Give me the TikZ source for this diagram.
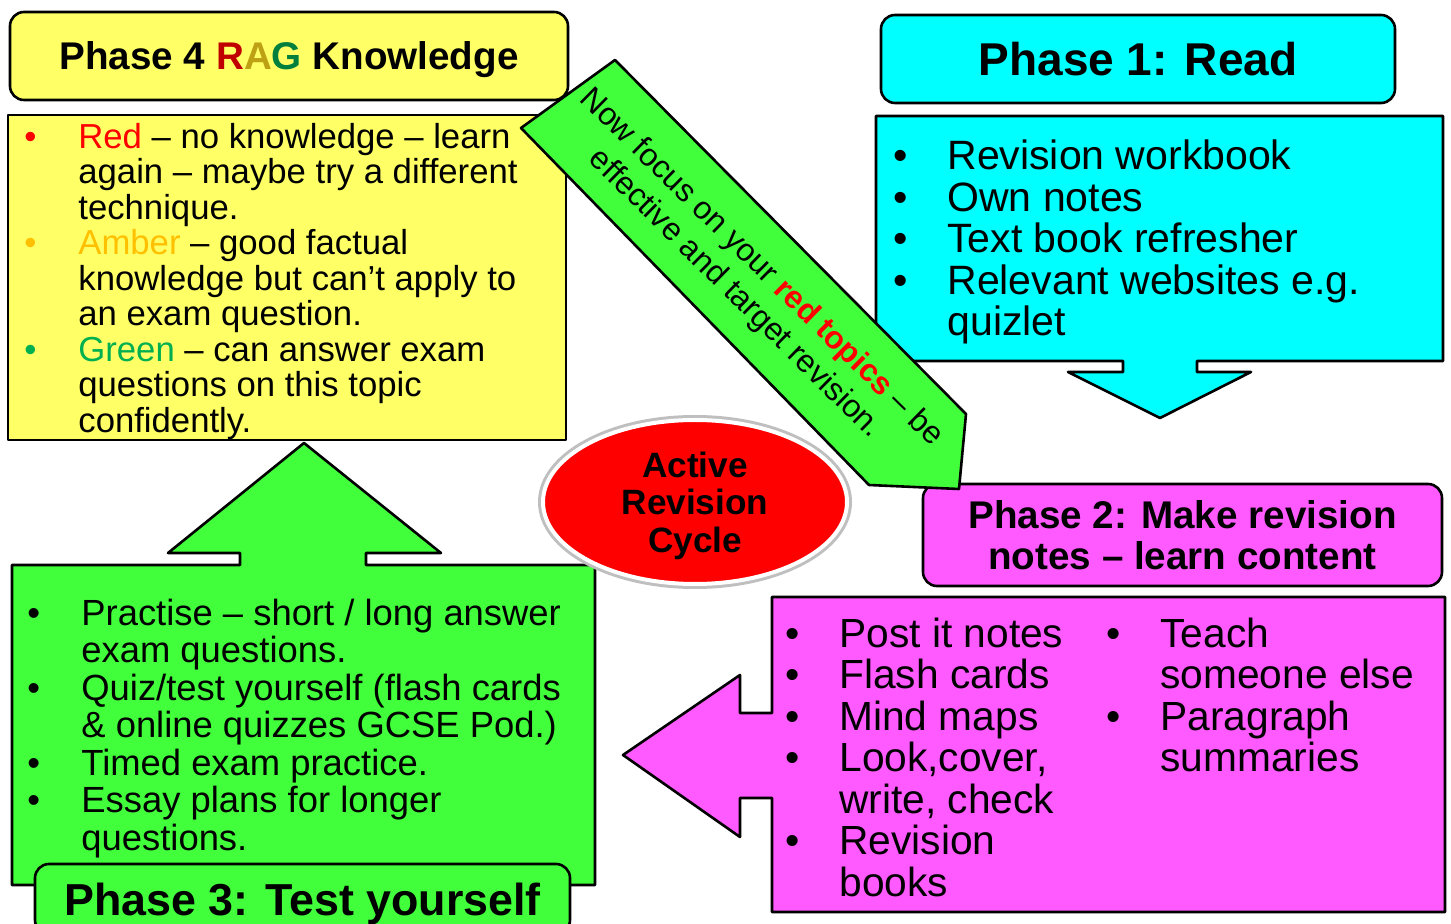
\documentclass[tikz,border=0pt]{standalone}
\usepackage{fontspec}
\setmainfont{Liberation Sans}
\usepackage{tikz}
\usetikzlibrary{shapes.geometric}

\definecolor{boxyellow}{RGB}{255,255,102}
\definecolor{boxcyan}{RGB}{0,255,255}
\definecolor{boxpink}{RGB}{255,90,255}
\definecolor{boxgreen}{RGB}{66,255,60}
\definecolor{ragred}{RGB}{192,0,0}
\definecolor{ragamber}{RGB}{190,160,20}
\definecolor{raggreen}{RGB}{0,128,60}
\definecolor{txtamber}{RGB}{255,192,0}
\definecolor{txtgreen}{RGB}{0,176,80}

\newcommand{\bul}[1][black]{\makebox[27pt][l]{\textcolor{#1}{\textbullet}}}
\newcommand{\cont}{\hspace*{27pt}}

\begin{document}
\begin{tikzpicture}[x=0.5pt, y=-0.5pt, line join=round,
  outline/.style={draw=black, line width=1.3pt},
  header/.style={outline, rounded corners=7pt, align=center, inner sep=0pt,
    font=\bfseries\fontsize{19.3pt}{20.5pt}\selectfont},
  list/.style={anchor=base west, align=left, inner sep=0pt}]

\fill[white] (0,0) rectangle (1451,924);
\useasboundingbox (0,0) rectangle (1451,924);

\node[header, fill=boxyellow, minimum width=279pt, minimum height=44pt, text depth=0pt] (phasefour) at (289,56)
{Phase 4 \textcolor{ragred}{R}\textcolor{ragamber}{A}\textcolor{raggreen}{G} Knowledge};

\node[header, fill=boxcyan, minimum width=257pt, minimum height=44pt,
  font=\bfseries\fontsize{23pt}{24pt}\selectfont] (phaseone) at (1138,59) {Phase 1: Read};

\draw[outline, fill=boxyellow] (8,115) rectangle (566,440);

\draw[outline, fill=boxcyan] (876,116) -- (1443,116) -- (1443,361) -- (1197,361) -- (1197,372) -- (1251,372)
  -- (1160,418) -- (1068,372) -- (1123,372) -- (1123,361) -- (876,361) -- cycle;

\draw[outline, fill=boxgreen] (12,565) -- (240,565) -- (240,553) -- (168,553) -- (304,443) -- (441,553)
  -- (366,553) -- (366,565) -- (595,565) -- (595,885) -- (12,885) -- cycle;

\node[header, fill=boxgreen, minimum width=267.5pt, minimum height=35pt, text depth=0pt,
  font=\bfseries\fontsize{22.4pt}{24pt}\selectfont] (phasethree) at (302.5,899) {Phase 3: Test yourself};

\draw[outline, fill=boxpink] (772,597) -- (1445,597) -- (1445,912) -- (772,912) -- (772,798) -- (740,798)
  -- (740,837) -- (623,755) -- (740,675) -- (740,713) -- (772,713) -- cycle;

\node[header, fill=boxpink, minimum width=259.5pt, minimum height=51pt] (phasetwo) at (1182.5,535)
{Phase 2: Make revision\\notes -- learn content};

\draw[outline, fill=boxgreen] (615,60) -- (966,414) -- (959,489) -- (869,485) -- (521,128) -- cycle;
\node[rotate=-44.5, align=center, inner sep=0pt, font=\fontsize{15.9pt}{18.5pt}\selectfont] (focus) at (748,281)
{Now focus on your \textcolor{red}{\bfseries red topics} -- be\\effective and target revision.};

\node[ellipse, fill=red, draw=white, line width=2pt, preaction={draw=black!25, line width=5pt},
  minimum width=152pt, minimum height=82pt, align=center, inner sep=0pt, text depth=0pt,
  font=\bfseries\fontsize{17.6pt}{18.75pt}\selectfont] (cycle) at (695,502) {Active\\Revision\\Cycle};

\node[list, font=\fontsize{17.35pt}{17.75pt}\selectfont] (ragtext) at (24,432.5)
{\bul[red]\textcolor{red}{Red} -- no knowledge -- learn\\
\cont again -- maybe try a different\\
\cont technique.\\
\bul[txtamber]\textcolor{txtamber}{Amber} -- good factual\\
\cont knowledge but can’t apply to\\
\cont an exam question.\\
\bul[txtgreen]\textcolor{txtgreen}{Green} -- can answer exam\\
\cont questions on this topic\\
\cont confidently.};

\node[list, font=\fontsize{20.5pt}{20.75pt}\selectfont] (readtext) at (893,336)
{\bul Revision workbook\\
\bul Own notes\\
\bul Text book refresher\\
\bul Relevant websites e.g.\\
\cont quizlet};

\node[list, font=\fontsize{18.2pt}{18.75pt}\selectfont] (testtext) at (27,850)
{\bul Practise -- short / long answer\\
\cont exam questions.\\
\bul Quiz/test yourself (flash cards\\
\cont \& online quizzes GCSE Pod.)\\
\bul Timed exam practice.\\
\bul Essay plans for longer\\
\cont questions.};

\node[list, font=\fontsize{20.35pt}{20.75pt}\selectfont] (notestext) at (785,896)
{\bul Post it notes\\
\bul Flash cards\\
\bul Mind maps\\
\bul Look,cover,\\
\cont write, check\\
\bul Revision\\
\cont books};

\node[list, font=\fontsize{20.35pt}{20.75pt}\selectfont] (teachtext) at (1106,771.5)
{\bul Teach\\
\cont someone else\\
\bul Paragraph\\
\cont summaries};

\end{tikzpicture}
\end{document}
